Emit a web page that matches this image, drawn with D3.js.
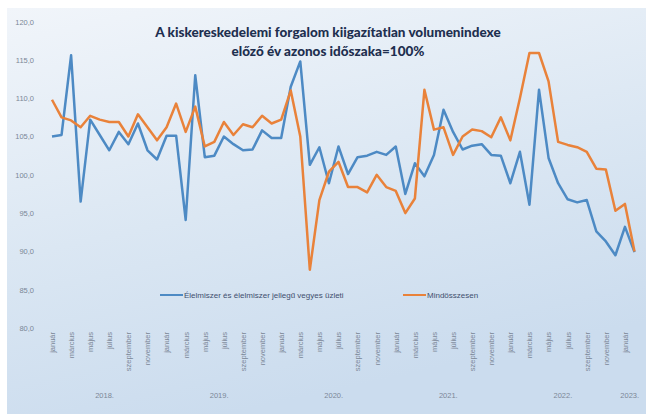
<!DOCTYPE html>
<html>
<head>
<meta charset="utf-8">
<script src="https://cdn.jsdelivr.net/npm/d3@7"></script>
<style>
  body { margin: 0; background: #fff; }
  svg { display: block; }
</style>
</head>
<body>
<div class="canvas"></div>
<script>
// Jan 2018 .. Feb 2023, monthly, previous year same period = 100
const monthNames = ['január', 'február', 'március', 'április', 'május', 'június',
  'július', 'augusztus', 'szeptember', 'október', 'november', 'december'];
const years = ['2018.', '2019.', '2020.', '2021.', '2022.', '2023.'];
const yTicks = [80, 85, 90, 95, 100, 105, 110, 115, 120];

const food = [
  105.0, 105.2, 115.6, 96.5, 107.2, 105.2, 103.2, 105.6, 104.0, 106.7, 103.2, 102.0,
  105.1, 105.1, 94.1, 113.0, 102.3, 102.5, 105.0, 104.0, 103.2, 103.3, 105.8, 104.8,
  104.8, 111.5, 114.8, 101.3, 103.6, 98.9, 103.7, 100.1, 102.3, 102.5, 103.0, 102.6,
  103.7, 97.5, 101.5, 99.8, 102.6, 108.5, 105.6, 103.3, 103.8, 104.0, 102.6, 102.5,
  98.9, 103.0, 96.1, 111.1, 102.2, 98.9, 96.8, 96.4, 96.7, 92.6, 91.3, 89.5,
  93.2, 89.9
];
const total = [
  109.8, 107.5, 107.1, 106.2, 107.7, 107.2, 106.9, 106.9, 105.0, 107.9, 106.2, 104.5,
  106.2, 109.3, 105.6, 108.9, 103.7, 104.3, 106.9, 105.2, 106.6, 106.2, 107.7, 106.7,
  107.2, 111.0, 105.0, 87.6, 96.7, 100.4, 101.7, 98.4, 98.4, 97.7, 100.0, 98.4,
  97.9, 95.0, 96.9, 111.1, 105.9, 106.2, 102.6, 105.0, 105.9, 105.7, 104.9, 107.5,
  104.5, 110.0, 115.9, 115.9, 112.2, 104.3, 103.9, 103.6, 103.0, 100.8, 100.7, 95.3,
  96.2, 90.0
];

const series = [
  { name: 'Élelmiszer és élelmiszer jellegű vegyes üzleti', values: food, color: '#4d8ac4' },
  { name: 'Mindösszesen', values: total, color: '#e9823a' }
];

const W = 646, H = 414;

const svg = d3.select('.canvas')
  .append('svg')
  .attr('width', W)
  .attr('height', H);

const grad = svg.append('defs')
  .append('linearGradient')
  .attr('id', 'bg')
  .attr('x1', 0).attr('y1', 0)
  .attr('x2', 0.35).attr('y2', 1);
grad.append('stop').attr('offset', '0%').attr('stop-color', '#f1f5fa');
grad.append('stop').attr('offset', '55%').attr('stop-color', '#dbe7f3');
grad.append('stop').attr('offset', '100%').attr('stop-color', '#cbdcee');

svg.append('rect')
  .attr('x', 7)
  .attr('y', 8)
  .attr('width', W - 7)
  .attr('height', H - 8)
  .attr('fill', 'url(#bg)');

const n = food.length;
const x = d3.scaleLinear().domain([0, n - 1]).range([52, 634.5]);
const y = d3.scaleLinear().domain([80, 120]).range([328, 21.6]);

// y axis
const yAxis = svg.append('g')
  .attr('transform', 'translate(40,0)')
  .call(d3.axisLeft(y).tickValues(yTicks).tickSize(0).tickPadding(6)
    .tickFormat(d => d3.format('.1f')(d).replace('.', ',')));
yAxis.select('.domain').remove();
yAxis.selectAll('text')
  .attr('fill', '#7b8797')
  .style('font-family', 'Liberation Sans, sans-serif')
  .style('font-size', '7.5px');

// x axis: every second month label, rotated
const xAxis = svg.append('g')
  .attr('transform', 'translate(0,332)')
  .call(d3.axisBottom(x).tickValues(d3.range(0, n, 2)).tickSize(0)
    .tickFormat(i => monthNames[i % 12]));
xAxis.select('.domain').remove();
xAxis.selectAll('text')
  .attr('fill', '#7b8797')
  .attr('transform', 'rotate(-90)')
  .attr('x', 0)
  .attr('y', 0)
  .attr('dx', 0)
  .attr('dy', '0.32em')
  .attr('text-anchor', 'end')
  .style('font-family', 'Liberation Sans, sans-serif')
  .style('font-size', '7.5px');

// year group labels
svg.selectAll('.year')
  .data(years)
  .enter()
  .append('text')
  .attr('class', 'year')
  .attr('x', (d, k) => (x(k * 12) + x(Math.min(k * 12 + 11, n - 1))) / 2)
  .attr('y', 398)
  .attr('text-anchor', 'middle')
  .attr('fill', '#7b8797')
  .style('font-family', 'Liberation Sans, sans-serif')
  .style('font-size', '7.5px')
  .text(d => d);

// lines
const line = d3.line()
  .x((d, i) => x(i))
  .y(d => y(d));

svg.selectAll('.series')
  .data(series)
  .enter()
  .append('path')
  .attr('class', 'series')
  .attr('d', d => line(d.values))
  .attr('fill', 'none')
  .attr('stroke', d => d.color)
  .attr('stroke-width', 2.5)
  .attr('stroke-linejoin', 'round');

// title
const title = svg.append('text')
  .attr('text-anchor', 'middle')
  .attr('fill', '#1e2f4f')
  .style('font-family', 'Lato, sans-serif')
  .style('font-weight', '900')
  .style('font-size', '13.5px');
title.append('tspan').attr('x', 328).attr('y', 37)
  .text('A kiskereskedelemi forgalom kiigazítatlan volumenindexe');
title.append('tspan').attr('x', 328).attr('y', 56)
  .text('előző év azonos időszaka=100%');

// legend
const legendX = [160, 403];
const legend = svg.selectAll('.legend')
  .data(series)
  .enter()
  .append('g')
  .attr('class', 'legend')
  .attr('transform', (d, i) => `translate(${legendX[i]},295)`);
legend.append('line')
  .attr('x1', 0).attr('x2', 23)
  .attr('stroke', d => d.color)
  .attr('stroke-width', 2);
legend.append('text')
  .attr('x', 24)
  .attr('dy', '0.32em')
  .attr('fill', '#3f4f6e')
  .style('font-family', 'Liberation Sans, sans-serif')
  .style('font-size', '8px')
  .text(d => d.name);
</script>
</body>
</html>
